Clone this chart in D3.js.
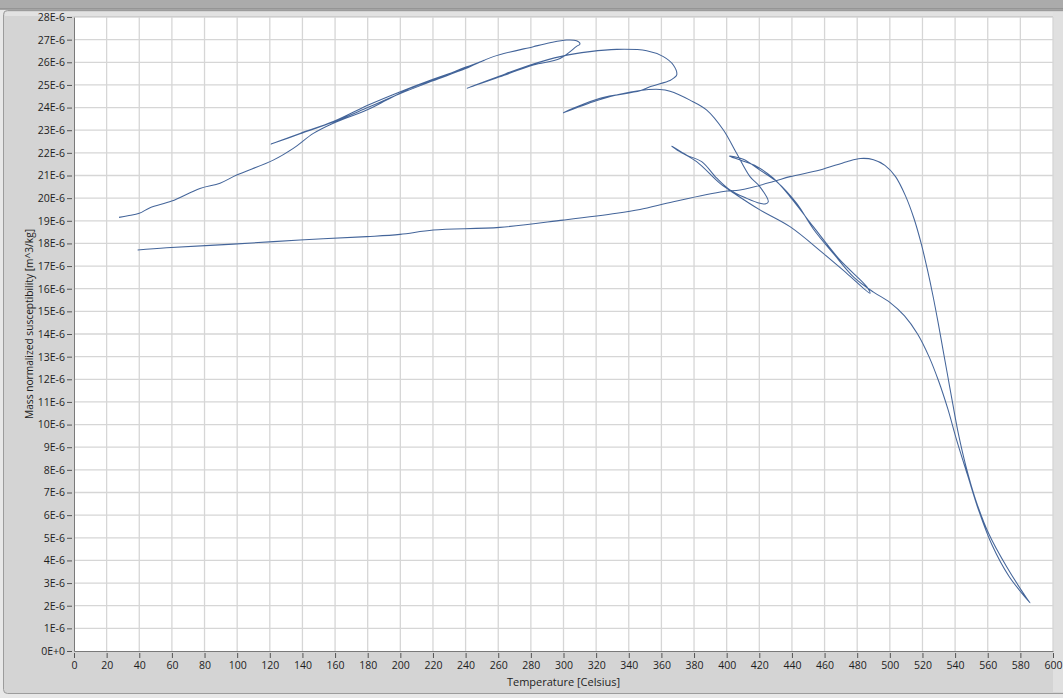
<!DOCTYPE html>
<html>
<head>
<meta charset="utf-8">
<script src="https://cdn.jsdelivr.net/npm/d3@7"></script>
<style>
  html, body { margin: 0; padding: 0; background: #e6e6e6; }
  svg { display: block; }
  text { font-family: "Open Sans", "Noto Sans", sans-serif; fill: #1e1e1e; }
</style>
</head>
<body>
<svg id="chart" width="1063" height="698"></svg>
<script>
// Thermomagnetic run: temperature (°C) and mass susceptibility (x1E-6 m^3/kg),
// recorded as successive heating / cooling cycles in acquisition order.
const temperature = [
  // heating 1
  27.6, 33, 40, 46.6, 59.9, 77.2, 89.5, 99.7, 122.1, 134.4, 146.7, 158.9, 179.4, 191.6, 203.9, 220.2, 240.7, 252,
  // cooling 1
  250, 240, 220, 200, 180, 158.9, 138.5, 120.7,
  // heating 2
  138.5, 158.9, 180, 200, 220, 240, 257, 281.5, 291.7, 301.9, 308, 310.1,
  // cooling 2
  308, 297.9, 281.5, 261, 240.7,
  // heating 3
  261, 281.5, 298, 316.2, 332.6, 351, 361.2, 367.3, 369.4,
  // cooling 3
  367.5, 365.3, 353, 346.9, 322.4, 299.9,
  // heating 4
  322, 347, 359.1, 365.3, 377.5, 387.8, 398, 406.1, 414.3, 420.4, 425.5,
  // cooling 4
  424, 420.4, 412.3, 402, 393.9, 384.7, 375.5, 366.3,
  // heating 5
  369.4, 381.6, 395.9, 406.1, 420.4, 438.8, 459.2, 473.6, 487.8,
  // cooling 5
  485.8, 469.4, 453.1, 438.8, 428.6, 418.4, 408.2, 401.6,
  // heating 6
  410.2, 420.4, 430.6, 442.9, 453.1, 466, 478, 490, 500, 509, 517, 524, 530, 535.5, 541, 547.5, 554.5, 562.5, 573, 585.9,
  // cooling 6
  583.9, 571.6, 560.5, 552.5, 546.5, 542, 538.6, 535.6, 532.6, 529.6, 526.4, 523, 519.2, 514.8, 509.6, 503.5, 497, 490, 482,
  473.6, 457.2, 438.8, 428.6, 408.2, 398, 367.3, 346.9, 332.6, 299.9, 261, 220.2, 199.8, 179.4, 138.5, 97.6, 56.8, 39
];
const susceptibility = [
  19.15, 19.22, 19.33, 19.58, 19.87, 20.43, 20.66, 21.02, 21.68, 22.2, 22.86, 23.31, 23.89, 24.33, 24.78, 25.22, 25.8, 26.1,
  26.05, 25.75, 25.25, 24.7, 24.1, 23.38, 22.86, 22.39,
  22.84, 23.36, 24.0, 24.62, 25.18, 25.72, 26.25, 26.69, 26.86, 26.98, 26.95, 26.81,
  26.7, 26.17, 25.88, 25.36, 24.85,
  25.4, 25.92, 26.25, 26.47, 26.57, 26.51, 26.25, 25.88, 25.44,
  25.3, 25.2, 24.92, 24.74, 24.41, 23.77,
  24.35, 24.75, 24.8, 24.72, 24.33, 23.89, 23.01, 21.98, 20.95, 20.5, 19.84,
  19.75, 19.77, 19.99, 20.36, 20.88, 21.61, 21.9, 22.3,
  22.13, 21.61, 20.65, 20.14, 19.48, 18.74, 17.56, 16.68, 15.8,
  16.09, 17.27, 18.74, 20.07, 20.88, 21.4, 21.68, 21.86,
  21.72, 21.24, 20.73, 19.77, 18.64, 17.5, 16.5, 15.85, 15.4, 14.8, 14.0, 13.0, 11.9, 10.7, 9.3, 7.8, 6.2, 4.7, 3.3, 2.13,
  2.33, 3.72, 5.2, 6.7, 8.2, 9.6, 10.9, 12.1, 13.3, 14.5, 15.7, 16.85, 18.0, 19.1, 20.1, 20.95, 21.45, 21.7, 21.75,
  21.61, 21.24, 20.95, 20.73, 20.36, 20.29, 19.84, 19.5, 19.33, 19.03, 18.71, 18.59, 18.4, 18.3, 18.15, 17.97, 17.81, 17.71
];

const xTicks = d3.range(0, 601, 20);
const yTicks = d3.range(0, 29, 1);
const yTickLabels = yTicks.map(v => v === 0 ? "0E+0" : v + "E-6");
const xTitle = "Temperature [Celsius]";
const yTitle = "Mass normalized susceptibility [m^3/kg]";

const W = 1063, H = 698;
const plot = { left: 74, right: 1053, top: 17, bottom: 651 };

const svg = d3.select("#chart");

// window chrome: title strip and the panel frame around the graph
svg.append("rect").attr("x", 0).attr("y", 0).attr("width", W).attr("height", H).attr("fill", "#e8e8e8");
svg.append("rect").attr("x", 0).attr("y", 0).attr("width", W).attr("height", 9).attr("fill", "#ababab");
svg.append("line").attr("x1", 0).attr("x2", W).attr("y1", 9).attr("y2", 9).attr("stroke", "#8e8e8e").attr("stroke-width", 1.5);
svg.append("rect").attr("x", 3.5).attr("y", 10.5).attr("width", W + 10).attr("height", 683)
  .attr("rx", 4).attr("fill", "#d4d4d4").attr("stroke", "#9c9c9c");
svg.append("rect").attr("x", 5).attr("y", 12).attr("width", W).attr("height", 4).attr("fill", "#e2e2e2");
svg.append("rect").attr("x", plot.right).attr("y", 12).attr("width", W - plot.right).attr("height", 680).attr("fill", "#e0e0e0");

const x = d3.scaleLinear().domain([0, 600]).range([plot.left, plot.right]);
const y = d3.scaleLinear().domain([0, 28]).range([plot.bottom, plot.top]);

svg.append("rect")
  .attr("x", plot.left).attr("y", plot.top)
  .attr("width", plot.right - plot.left).attr("height", plot.bottom - plot.top)
  .attr("fill", "#ffffff");
svg.append("line").attr("x1", plot.left).attr("x2", plot.right)
  .attr("y1", plot.top - 0.5).attr("y2", plot.top - 0.5).attr("stroke", "#b4b4b4");

// grid
const grid = svg.append("g").attr("stroke", "#d6d6d6").attr("stroke-width", 1.3);
grid.selectAll(".gx").data(xTicks.slice(1)).join("line")
  .attr("x1", d => x(d)).attr("x2", d => x(d)).attr("y1", plot.top).attr("y2", plot.bottom);
grid.selectAll(".gy").data(yTicks.slice(1)).join("line")
  .attr("x1", plot.left).attr("x2", plot.right).attr("y1", d => y(d)).attr("y2", d => y(d));

// axes
const xAxis = d3.axisBottom(x).tickValues(xTicks).tickSize(6).tickPadding(3).tickSizeOuter(0);
const yAxis = d3.axisLeft(y).tickValues(yTicks).tickSize(6).tickPadding(2).tickSizeOuter(0)
  .tickFormat((d, i) => yTickLabels[i]);

const gx = svg.append("g").attr("transform", `translate(0,${plot.bottom})`).call(xAxis);
const gy = svg.append("g").attr("transform", `translate(${plot.left},0)`).call(yAxis);
[gx, gy].forEach(g => {
  g.select(".domain").attr("stroke", "#7a7a7a").attr("stroke-width", 1);
  g.selectAll(".tick line").attr("stroke", "#555");
  g.selectAll(".tick text").attr("font-size", "10.5px").attr("fill", "#1e1e1e")
    .attr("font-family", "'Open Sans', 'Noto Sans', sans-serif");
});
gy.selectAll(".tick line").attr("x1", -2).attr("x2", -7);
gy.selectAll(".tick text").attr("x", -9);
gx.selectAll(".tick line").attr("y1", 2).attr("y2", 7);
gx.selectAll(".tick text").attr("y", 11);

// titles
svg.append("text").attr("x", (plot.left + plot.right) / 2).attr("y", 686)
  .attr("text-anchor", "middle").attr("font-size", "11px").text(xTitle);
svg.append("text")
  .attr("transform", `translate(33,324) rotate(-90)`)
  .attr("text-anchor", "middle").attr("font-size", "10.5px")
  .attr("textLength", 190).attr("lengthAdjust", "spacingAndGlyphs").text(yTitle);

// measured curve
const points = temperature.map((t, i) => [t, susceptibility[i]]);
const line = d3.line()
  .x(d => x(d[0])).y(d => y(d[1]))
  .curve(d3.curveCatmullRom.alpha(0.5));

svg.append("path")
  .datum(points)
  .attr("d", line)
  .attr("fill", "none")
  .attr("stroke", "#44659a")
  .attr("stroke-width", 1.05)
  .attr("stroke-linejoin", "round");
</script>
</body>
</html>
